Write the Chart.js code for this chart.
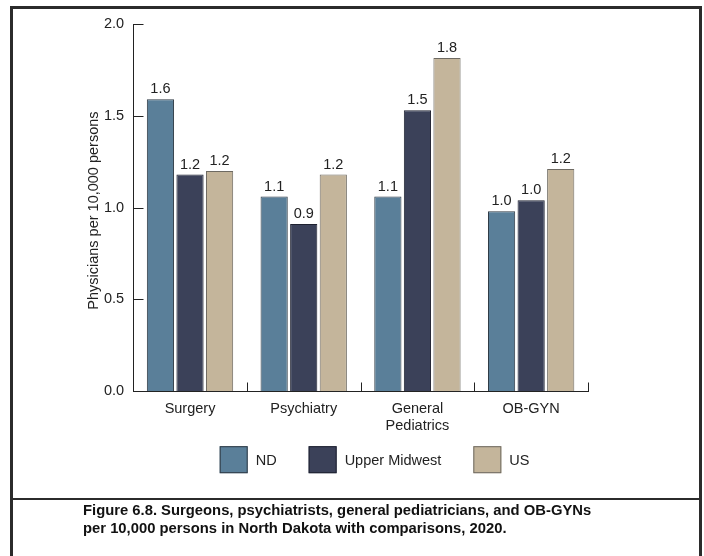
<!DOCTYPE html>
<html>
<head>
<meta charset="utf-8">
<script src="https://cdn.jsdelivr.net/npm/chart.js@4"></script>
<style>
  body { margin: 0; background: #fff; font-family: "Liberation Sans", Arial, sans-serif; }
  #frame { position: absolute; left: 10px; top: 6px; width: 686px; height: 560px; border: 3px solid #2b2b2b; }
  #wrap { position: absolute; left: 0; top: 0; width: 704px; height: 499px; }
  #sep { position: absolute; left: 10px; top: 498px; width: 690px; border-top: 2px solid #2b2b2b; }
  #caption { position: absolute; left: 83px; top: 501px; font-size: 14.8px; font-weight: bold; line-height: 18px; color: #111; }
</style>
</head>
<body>
<div id="frame"></div>
<div id="wrap"><canvas id="myChart" width="704" height="499"></canvas></div>
<div id="sep"></div>
<div id="caption">Figure 6.8. Surgeons, psychiatrists, general pediatricians, and OB-GYNs<br>per 10,000 persons in North Dakota with comparisons, 2020.</div>
<script>
'use strict';

// chart data
let categories = ['Surgery', 'Psychiatry', ['General', 'Pediatrics'], 'OB-GYN'];
let ndValues = [1.59, 1.06, 1.06, 0.98];
let midwestValues = [1.18, 0.91, 1.53, 1.04];
let usValues = [1.20, 1.18, 1.815, 1.21];
let yTicks = [0, 0.5, 1.0, 1.5, 2.0];
let yTitle = 'Physicians per 10,000 persons';

let textColor = '#222';
let fontSize = 14.5;
let fontStr = fontSize + 'px "Liberation Sans", Arial, sans-serif';
Chart.defaults.font.family = '"Liberation Sans", Arial, sans-serif';
Chart.defaults.font.size = fontSize;
Chart.defaults.color = textColor;

// value labels on top of each bar
const barLabels = {
  id: 'barLabels',
  afterDatasetsDraw(chart) {
    let ctx = chart.ctx;
    ctx.save();
    ctx.font = fontStr;
    ctx.fillStyle = textColor;
    ctx.textAlign = 'center';
    ctx.textBaseline = 'alphabetic';
    chart.data.datasets.forEach((ds, i) => {
      chart.getDatasetMeta(i).data.forEach((bar, j) => {
        ctx.fillText(ds.data[j].toFixed(1), bar.x, bar.y - 6);
      });
    });
    ctx.restore();
  }
};

// ticks pointing into the plot, on both axes
const innerTicks = {
  id: 'innerTicks',
  afterDraw(chart) {
    let ctx = chart.ctx;
    let x = chart.scales.x;
    let y = chart.scales.y;
    let y0 = Math.round(y.getPixelForValue(0)) + 0.5;
    let x0 = Math.round(x.left) + 0.5;
    ctx.save();
    ctx.strokeStyle = '#222';
    ctx.lineWidth = 1;
    ctx.beginPath();
    for (let i = 1; i <= categories.length; i++) {
      let px = Math.round(x.getPixelForValue(i - 0.5)) + 0.5;
      ctx.moveTo(px, y0);
      ctx.lineTo(px, y0 - 9);
    }
    yTicks.forEach(v => {
      let py = Math.round(y.getPixelForValue(v)) + 0.5;
      ctx.moveTo(x0, py);
      ctx.lineTo(x0 + 10, py);
    });
    ctx.stroke();
    ctx.restore();
  }
};

// y title and legend, placed off the chart area
const sideText = {
  id: 'sideText',
  afterDraw(chart) {
    let ctx = chart.ctx;
    let area = chart.chartArea;
    ctx.save();
    ctx.font = fontStr;
    ctx.fillStyle = textColor;

    ctx.save();
    ctx.translate(area.left - 39, (area.top + area.bottom) / 2 + 3);
    ctx.rotate(-Math.PI / 2);
    ctx.textAlign = 'center';
    ctx.textBaseline = 'middle';
    ctx.fillText(yTitle, 0, 0);
    ctx.restore();

    let boxW = 28, boxH = 27, gap = 8, spacing = 32;
    let items = chart.data.datasets.map(ds => ({
      ds: ds,
      w: boxW + gap + ctx.measureText(ds.label).width
    }));
    let total = items.reduce((s, it) => s + it.w, 0) + spacing * (items.length - 1);
    let x = (area.left + area.right) / 2 + 14 - total / 2;
    let top = area.bottom + 55;
    ctx.textAlign = 'left';
    ctx.textBaseline = 'middle';
    items.forEach(it => {
      ctx.fillStyle = it.ds.backgroundColor;
      ctx.fillRect(x, top, boxW, boxH);
      ctx.strokeStyle = it.ds.borderColor;
      ctx.lineWidth = 1;
      ctx.strokeRect(x + 0.5, top + 0.5, boxW - 1, boxH - 1);
      ctx.fillStyle = textColor;
      ctx.fillText(it.ds.label, x + boxW + gap, top + boxH / 2 + 1);
      x += it.w + spacing;
    });
    ctx.restore();
  }
};

function barSet(label, data, color, border) {
  return {
    label: label,
    data: data,
    backgroundColor: color,
    borderColor: border,
    borderWidth: 1,
    categoryPercentage: 0.78,
    barPercentage: 0.92
  };
}

const config = {
  type: 'bar',
  data: {
    labels: categories,
    datasets: [
      barSet('ND', ndValues, '#5a7f99', '#2f3a44'),
      barSet('Upper Midwest', midwestValues, '#3b4159', '#1e2130'),
      barSet('US', usValues, '#c4b59b', '#6e6a62')
    ]
  },
  options: {
    responsive: false,
    animation: false,
    layout: { padding: { left: 103, right: 116, top: 24, bottom: 63 } },
    plugins: {
      tooltip: { enabled: false },
      legend: { display: false }
    },
    scales: {
      x: {
        grid: { display: false },
        border: { color: '#222', width: 1 },
        ticks: { color: textColor, font: { size: fontSize }, padding: 1 }
      },
      y: {
        min: 0,
        max: 2,
        afterBuildTicks(axis) {
          axis.ticks = yTicks.map(v => ({ value: v }));
        },
        grid: { display: false },
        border: { color: '#222', width: 1 },
        ticks: {
          color: textColor,
          font: { size: fontSize },
          padding: 1,
          callback: v => v.toFixed(1)
        }
      }
    }
  },
  plugins: [barLabels, innerTicks, sideText]
};

const myChart = new Chart(document.getElementById('myChart'), config);
</script>
</body>
</html>
